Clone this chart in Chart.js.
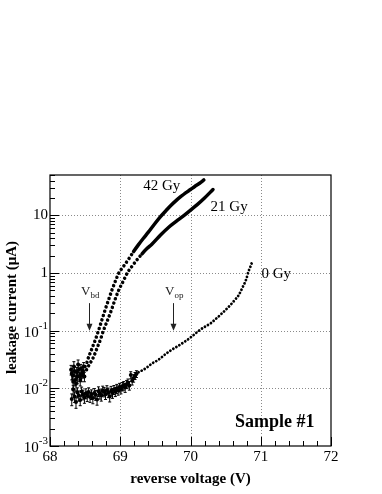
<!DOCTYPE html>
<html>
<head>
<meta charset="utf-8">
<script src="https://cdn.jsdelivr.net/npm/chart.js@4.4.1/dist/chart.umd.min.js"></script>
<style>
  body { margin: 0; background: #fff; }
  #wrap { width: 382px; height: 494px; }
</style>
</head>
<body>
<div id="wrap"><canvas id="graph" width="382" height="494"></canvas></div>
<script>
// values (reverse voltage in V, current in uA)
const volt42 = [68.30, 68.32, 68.34, 68.36, 68.38, 68.40, 68.42, 68.44, 68.46, 68.48,
    68.50, 68.55, 68.60, 68.65, 68.69, 68.74, 68.79, 68.84, 68.88, 68.93, 68.98,
    69.05, 69.12, 69.19, 69.26, 69.33, 69.40, 69.47, 69.57, 69.65, 69.72, 69.79,
    69.86, 69.93, 70.00, 70.06, 70.13, 70.19];
const cur42 = [0.021, 0.017, 0.024, 0.014, 0.019, 0.026, 0.016, 0.022, 0.018, 0.024,
    0.024, 0.035, 0.050, 0.072, 0.10, 0.155, 0.24, 0.36, 0.50, 0.72, 1.0,
    1.32, 1.75, 2.35, 3.1, 4.0, 5.1, 6.6, 9.4, 12.0, 14.8, 17.8,
    21, 24.5, 28, 31.6, 36, 41];
const err42 = [0.004, 0.003, 0.005, 0.003, 0.004, 0.005, 0.003, 0.004, 0.003, 0.004];

const volt21 = [68.31, 68.33, 68.35, 68.37, 68.39, 68.41, 68.43, 68.45, 68.47, 68.49,
    68.52, 68.57, 68.62, 68.67, 68.72, 68.76, 68.82, 68.87, 68.92, 68.98, 69.04,
    69.10, 69.17, 69.24, 69.31, 69.38, 69.45, 69.57, 69.69, 69.80, 69.90, 70.00,
    70.10, 70.20, 70.32];
const cur21 = [0.018, 0.013, 0.020, 0.012, 0.016, 0.021, 0.014, 0.017, 0.020, 0.016,
    0.021, 0.027, 0.035, 0.050, 0.071, 0.10, 0.153, 0.22, 0.33, 0.51, 0.71,
    1.0, 1.32, 1.7, 2.15, 2.65, 3.15, 4.5, 6.2, 7.9, 9.8, 12.3,
    15.5, 20, 28];
const err21 = [0.004, 0.003, 0.004, 0.003, 0.004, 0.004, 0.003, 0.004, 0.004, 0.003];

const volt0 = [68.31, 68.33, 68.35, 68.37, 68.39, 68.41, 68.43, 68.45, 68.47, 68.49,
    68.51, 68.53, 68.55, 68.57, 68.59, 68.61, 68.63, 68.65, 68.67, 68.69,
    68.71, 68.73, 68.75, 68.77, 68.79, 68.81, 68.83, 68.85, 68.87, 68.89,
    68.91, 68.93, 68.95, 68.97, 68.99, 69.01, 69.03, 69.05, 69.07, 69.09,
    69.11, 69.13, 69.15, 69.17, 69.19, 69.21, 69.23,
    69.26, 69.33, 69.40, 69.45, 69.50, 69.57, 69.63, 69.69, 69.75, 69.81,
    69.87, 69.93, 70.00, 70.06, 70.12, 70.20, 70.29, 70.36, 70.43, 70.50,
    70.57, 70.63, 70.69, 70.74, 70.79, 70.83, 70.86, 70.88];
const cur0 = [0.0065, 0.0095, 0.0072, 0.0058, 0.0085, 0.0075, 0.0063, 0.0088, 0.0078, 0.0069,
    0.0082, 0.0074, 0.0086, 0.0071, 0.0079, 0.0068, 0.0083, 0.0077, 0.0064, 0.0089,
    0.0081, 0.0075, 0.0092, 0.0087, 0.0079, 0.0094, 0.0085, 0.0072, 0.0091, 0.0083,
    0.0095, 0.0088, 0.0099, 0.0093, 0.0104, 0.0097, 0.0108, 0.0112, 0.0103, 0.0118,
    0.0125, 0.0112, 0.0170, 0.0135, 0.0150, 0.0165, 0.0178,
    0.019, 0.021, 0.024, 0.027, 0.029, 0.033, 0.038, 0.043, 0.048, 0.053,
    0.059, 0.066, 0.076, 0.087, 0.10, 0.116, 0.135, 0.16, 0.19, 0.23,
    0.28, 0.34, 0.42, 0.56, 0.76, 1.1, 1.35, 1.59];
const err0 = [0.0015, 0.0018, 0.0015, 0.0013, 0.0017, 0.0015, 0.0013, 0.0017, 0.0015, 0.0014,
    0.0016, 0.0015, 0.0016, 0.0014, 0.0015, 0.0014, 0.0016, 0.0015, 0.0013, 0.0017,
    0.0016, 0.0015, 0.0017, 0.0016, 0.0015, 0.0017, 0.0016, 0.0014, 0.0017, 0.0016,
    0.0017, 0.0016, 0.0018, 0.0017, 0.0018, 0.0017, 0.0018, 0.0019, 0.0018, 0.0019,
    0.0020, 0.0019, 0.0024, 0.0021, 0.0022, 0.0023, 0.0024];

const xTicks = [68, 69, 70, 71, 72];
const yTicks = [0.001, 0.01, 0.1, 1, 10];
const yTickExp = ['-3', '-2', '-1', '', ''];
const yTickBase = ['10', '10', '10', '1', '10'];

const curveNames = ['42 Gy', '21 Gy', '0 Gy'];
const curveNameV = [69.59, 70.55, 71.22];
const curveNameI = [32, 14, 0.97];
const arrowSub = ['bd', 'op'];
const arrowV = [68.56, 69.75];

const SERIF = '"Liberation Serif", "Times New Roman", serif';

function toPoints(xs, ys) {
    var pts = [];
    for (let i = 0; i < xs.length; i++) {
        pts.push({ x: xs[i], y: ys[i] });
    }
    return pts;
}

// noisy points at low voltage are plain markers, the rest is a dotted / solid curve
function makeDataset(label, xs, ys, errs, solidFrom, gap) {
    const nNoisy = errs.length;
    return {
        label: label,
        data: toPoints(xs, ys),
        errs: errs,
        showLine: true,
        cubicInterpolationMode: 'monotone',
        borderColor: '#000',
        backgroundColor: '#000',
        borderWidth: 3.5,
        borderCapStyle: 'round',
        pointRadius: ctx => ctx.dataIndex < nNoisy ? 2 : 0,
        pointHoverRadius: 0,
        pointBorderWidth: 0,
        segment: {
            borderColor: ctx => ctx.p0DataIndex < nNoisy ? 'rgba(0,0,0,0)' : '#000',
            borderDash: ctx => ctx.p0.parsed.y < solidFrom ? [0.01, gap] : []
        }
    };
}

function drawPow(ctx, base, exp, xRight, y) {
    ctx.textBaseline = 'middle';
    ctx.textAlign = 'right';
    var w = 0;
    if (exp) {
        ctx.font = '11px ' + SERIF;
        w = ctx.measureText(exp).width;
        ctx.fillText(exp, xRight, y - 5);
    }
    ctx.font = '15px ' + SERIF;
    ctx.fillText(base, xRight - w, y + (exp ? 2 : 0));
}

const overlay = {
    id: 'overlay',
    beforeDatasetsDraw(chart) {
        const ctx = chart.ctx;
        const a = chart.chartArea;
        const xs = chart.scales.x, ys = chart.scales.y;
        ctx.save();
        ctx.strokeStyle = '#8a8a8a';
        ctx.lineWidth = 1;
        ctx.setLineDash([1, 2]);
        xTicks.slice(1, -1).forEach(v => {
            const px = Math.round(xs.getPixelForValue(v)) + 0.5;
            ctx.beginPath(); ctx.moveTo(px, a.top); ctx.lineTo(px, a.bottom); ctx.stroke();
        });
        yTicks.slice(1).forEach(v => {
            const py = Math.round(ys.getPixelForValue(v)) + 0.5;
            ctx.beginPath(); ctx.moveTo(a.left, py); ctx.lineTo(a.right, py); ctx.stroke();
        });
        ctx.restore();
    },
    afterDatasetsDraw(chart) {
        const ctx = chart.ctx;
        const a = chart.chartArea;
        const xs = chart.scales.x, ys = chart.scales.y;
        ctx.save();

        // error bars on the noisy points
        ctx.strokeStyle = '#000';
        ctx.lineWidth = 1;
        chart.data.datasets.forEach(ds => {
            for (let i = 0; i < ds.errs.length; i++) {
                const p = ds.data[i];
                const px = xs.getPixelForValue(p.x);
                const y1 = ys.getPixelForValue(p.y + ds.errs[i]);
                const y2 = ys.getPixelForValue(Math.max(p.y - ds.errs[i], 1e-4));
                ctx.beginPath();
                ctx.moveTo(px, y1); ctx.lineTo(px, y2);
                ctx.moveTo(px - 1.5, y1); ctx.lineTo(px + 1.5, y1);
                ctx.moveTo(px - 1.5, y2); ctx.lineTo(px + 1.5, y2);
                ctx.stroke();
            }
        });

        // frame
        ctx.lineWidth = 1.2;
        ctx.strokeRect(a.left, a.top, a.right - a.left, a.bottom - a.top);

        // inward ticks on x
        ctx.lineWidth = 1;
        for (let k = 0; k <= 20; k++) {
            const v = 68 + k * 0.2;
            const px = Math.round(xs.getPixelForValue(v)) + 0.5;
            const len = k % 5 === 0 ? 9 : 5;
            ctx.beginPath(); ctx.moveTo(px, a.bottom); ctx.lineTo(px, a.bottom - len); ctx.stroke();
        }
        // inward ticks on y (log)
        for (let d = -3; d <= 1; d++) {
            for (let m = 1; m <= 9; m++) {
                const v = m * Math.pow(10, d);
                if (v > ys.max) break;
                const py = Math.round(ys.getPixelForValue(v)) + 0.5;
                const len = m === 1 ? 9 : 5;
                ctx.beginPath(); ctx.moveTo(a.left, py); ctx.lineTo(a.left + len, py); ctx.stroke();
            }
        }

        // y tick labels with exponents
        ctx.fillStyle = '#000';
        yTicks.forEach((v, i) => {
            drawPow(ctx, yTickBase[i], yTickExp[i], a.left - 2, ys.getPixelForValue(v));
        });

        // curve labels
        ctx.font = '15px ' + SERIF;
        ctx.textAlign = 'center';
        ctx.textBaseline = 'middle';
        curveNames.forEach((t, i) => {
            ctx.fillText(t, xs.getPixelForValue(curveNameV[i]), ys.getPixelForValue(curveNameI[i]));
        });

        // V_bd / V_op arrows
        ctx.strokeStyle = '#222';
        ctx.fillStyle = '#222';
        arrowV.forEach((v, i) => {
            const px = Math.round(xs.getPixelForValue(v)) + 0.5;
            const yTop = ys.getPixelForValue(0.3);
            const yTip = ys.getPixelForValue(0.1);
            ctx.beginPath(); ctx.moveTo(px, yTop); ctx.lineTo(px, yTip - 5); ctx.stroke();
            ctx.beginPath();
            ctx.moveTo(px - 3, yTip - 7); ctx.lineTo(px + 3, yTip - 7); ctx.lineTo(px, yTip);
            ctx.closePath(); ctx.fill();
            const ly = ys.getPixelForValue(0.47);
            ctx.font = '13px ' + SERIF;
            ctx.textAlign = 'right';
            ctx.fillText('V', px + 1, ly);
            ctx.font = '9px ' + SERIF;
            ctx.textAlign = 'left';
            ctx.fillText(arrowSub[i], px + 1, ly + 4);
        });

        // sample label
        ctx.fillStyle = '#000';
        ctx.font = 'bold 18px ' + SERIF;
        ctx.textAlign = 'center';
        ctx.fillText('Sample #1', xs.getPixelForValue(71.2), ys.getPixelForValue(0.00255));

        // axis titles
        ctx.font = 'bold 15px ' + SERIF;
        ctx.fillText('reverse voltage (V)', (a.left + a.right) / 2, a.bottom + 33);
        ctx.translate(12, (a.top + a.bottom) / 2 - 3);
        ctx.rotate(-Math.PI / 2);
        ctx.fillText('leakage current (\u03bcA)', 0, 0);

        ctx.restore();
    }
};

function showGraph() {
    const datasets = [
        makeDataset('42 Gy', volt42, cur42, err42, 2.0, 4.5),
        makeDataset('21 Gy', volt21, cur21, err21, 2.0, 4.5),
        makeDataset('0 Gy', volt0, cur0, err0, Infinity, 3.5)
    ];
    datasets[2].borderWidth = 2.8;

    const config = {
        type: 'scatter',
        data: { datasets: datasets },
        options: {
            responsive: false,
            animation: false,
            layout: { padding: { top: 175, right: 51, left: 0, bottom: 0 } },
            plugins: { legend: { display: false }, tooltip: { enabled: false } },
            scales: {
                x: {
                    type: 'linear',
                    min: 68,
                    max: 72,
                    afterBuildTicks: s => { s.ticks = xTicks.map(v => ({ value: v })); },
                    afterFit: s => { s.height = 48; },
                    grid: { display: false, drawTicks: false },
                    border: { display: false },
                    ticks: { color: '#000', padding: 2, font: { family: SERIF, size: 15 } }
                },
                y: {
                    type: 'logarithmic',
                    min: 0.001,
                    max: 50,
                    afterFit: s => { s.width = 50; },
                    grid: { display: false, drawTicks: false },
                    border: { display: false },
                    ticks: { display: false }
                }
            }
        },
        plugins: [overlay]
    };

    new Chart(document.getElementById('graph'), config);
}

showGraph();
</script>
</body>
</html>
